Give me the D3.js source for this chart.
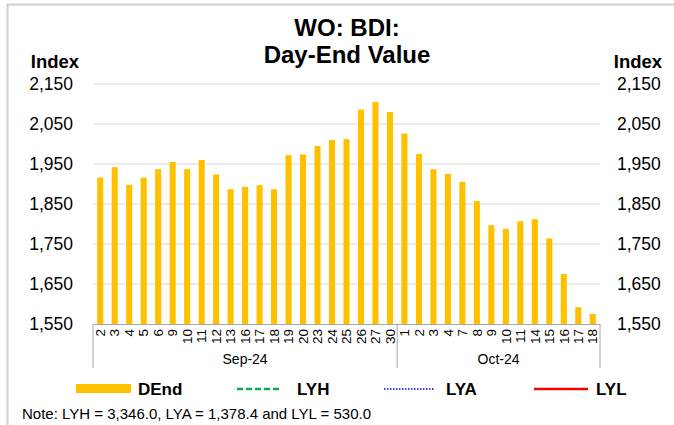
<!DOCTYPE html>
<html>
<head>
<meta charset="utf-8">
<script src="https://cdn.jsdelivr.net/npm/d3@7"></script>
<style>
  body { margin: 0; background: #fff; }
  svg { display: block; font-family: "Liberation Sans", Arial, sans-serif; }
</style>
</head>
<body>
<div id="chart"></div>
<script>
// business days shown on the axis
const sepDays = [2, 3, 4, 5, 6, 9, 10, 11, 12, 13, 16, 17, 18, 19, 20, 23, 24, 25, 26, 27, 30];
const octDays = [1, 2, 3, 4, 7, 8, 9, 10, 11, 14, 15, 16, 17, 18];
// day-end index values
const sepValues = [1916, 1942, 1898, 1916, 1937, 1955, 1937, 1960, 1924, 1887, 1893,
                   1897, 1887, 1972, 1974, 1995, 2010, 2012, 2086, 2105, 2080];
const octValues = [2026, 1975, 1937, 1925, 1905, 1857, 1797, 1788, 1807, 1812, 1764,
                   1675, 1592, 1575];
const yTicks = [1550, 1650, 1750, 1850, 1950, 2050, 2150];
const legendItems = ["DEnd", "LYH", "LYA", "LYL"];

const data = sepDays.map((d, i) => ({ key: "Sep-" + d, day: d, value: sepValues[i] }))
  .concat(octDays.map((d, i) => ({ key: "Oct-" + d, day: d, value: octValues[i] })));

const width = 674, height = 425;
const plotLeft = 93, plotRight = 600, plotTop = 84, plotBottom = 324;

const svg = d3.select("#chart").append("svg")
  .attr("width", width)
  .attr("height", height);

// outer frame
svg.append("rect")
  .attr("x", 7.5).attr("y", 4.5)
  .attr("width", 700).attr("height", 440)
  .attr("fill", "none")
  .attr("stroke", "#d0d0d0")
  .attr("stroke-width", 2);

const x = d3.scaleBand()
  .domain(data.map(d => d.key))
  .range([plotLeft, plotRight])
  .paddingInner(0.58)
  .paddingOuter(0.29);

const y = d3.scaleLinear()
  .domain([1550, 2150])
  .range([plotBottom, plotTop]);

// gridlines
svg.append("g")
  .selectAll("line")
  .data(yTicks.slice(1))
  .enter()
  .append("line")
  .attr("x1", plotLeft).attr("x2", plotRight)
  .attr("y1", d => y(d)).attr("y2", d => y(d))
  .attr("stroke", "#d9d9d9")
  .attr("stroke-width", 1);

// bars
svg.append("g")
  .selectAll("rect")
  .data(data)
  .enter()
  .append("rect")
  .attr("x", d => x(d.key))
  .attr("width", x.bandwidth())
  .attr("y", d => y(d.value))
  .attr("height", d => y(1550) - y(d.value))
  .attr("fill", "#FFC000");

// y axes
const fmt = d3.format(",");
const yl = svg.append("g")
  .attr("transform", `translate(${plotLeft},0)`)
  .call(d3.axisLeft(y).tickValues(yTicks).tickFormat(fmt).tickSize(0).tickPadding(20));
yl.select(".domain").remove();
yl.selectAll("text").attr("font-size", 17.5).attr("fill", "#000").attr("font-family", null);

const yr = svg.append("g")
  .attr("transform", `translate(${plotRight},0)`)
  .call(d3.axisRight(y).tickValues(yTicks).tickFormat(fmt).tickSize(0).tickPadding(17));
yr.select(".domain").remove();
yr.selectAll("text").attr("font-size", 17.5).attr("fill", "#000").attr("font-family", null);

svg.append("text").attr("x", 55).attr("y", 68)
  .attr("text-anchor", "middle").attr("font-size", 18.5).attr("font-weight", "bold")
  .text("Index");
svg.append("text").attr("x", 638).attr("y", 68)
  .attr("text-anchor", "middle").attr("font-size", 18.5).attr("font-weight", "bold")
  .text("Index");

// title
svg.append("text").attr("x", 347).attr("y", 36)
  .attr("text-anchor", "middle").attr("font-size", 24).attr("font-weight", "bold")
  .text("WO: BDI:");
svg.append("text").attr("x", 347).attr("y", 63)
  .attr("text-anchor", "middle").attr("font-size", 24).attr("font-weight", "bold")
  .text("Day-End Value");

// category axis
const xa = svg.append("g")
  .attr("transform", `translate(0,${plotBottom})`)
  .call(d3.axisBottom(x).tickSize(0).tickFormat(k => k.split("-")[1]));
xa.select(".domain").attr("stroke", "#a6a6a6");
xa.selectAll("text")
  .attr("font-size", 13.5)
  .attr("fill", "#000")
  .attr("font-family", null)
  .attr("transform", "rotate(-90)")
  .attr("text-anchor", "end")
  .attr("x", -5)
  .attr("y", 0)
  .attr("dy", "0.35em");

// month group separators
const splitX = (x("Sep-30") + x.bandwidth() + x("Oct-1")) / 2;
[plotLeft, splitX, plotRight].forEach(px => {
  svg.append("line")
    .attr("x1", px).attr("x2", px)
    .attr("y1", plotBottom).attr("y2", 368)
    .attr("stroke", "#a6a6a6");
});
svg.append("text").attr("x", (plotLeft + splitX) / 2).attr("y", 364)
  .attr("text-anchor", "middle").attr("font-size", 14).text("Sep-24");
svg.append("text").attr("x", (splitX + plotRight) / 2).attr("y", 364)
  .attr("text-anchor", "middle").attr("font-size", 14).text("Oct-24");

// legend
const lg = svg.append("g");
const lgX = [76, 237, 384, 534];
const lgTextX = [138, 297, 446, 596];
lg.append("rect").attr("x", lgX[0]).attr("y", 384).attr("width", 55).attr("height", 9).attr("fill", "#FFC000");
lg.append("line").attr("x1", lgX[1]).attr("x2", lgX[1] + 45).attr("y1", 389).attr("y2", 389)
  .attr("stroke", "#00B050").attr("stroke-width", 2.5).attr("stroke-dasharray", "6,3");
lg.append("line").attr("x1", lgX[2]).attr("x2", lgX[2] + 51).attr("y1", 389).attr("y2", 389)
  .attr("stroke", "#0000FF").attr("stroke-width", 1.5).attr("stroke-dasharray", "1.5,1.5");
lg.append("line").attr("x1", lgX[3]).attr("x2", lgX[3] + 54).attr("y1", 389).attr("y2", 389)
  .attr("stroke", "#FF0000").attr("stroke-width", 2.5);
lg.selectAll("text.lab")
  .data(legendItems)
  .enter()
  .append("text")
  .attr("class", "lab")
  .attr("x", (d, i) => lgTextX[i])
  .attr("y", 395)
  .attr("font-size", 17)
  .attr("font-weight", "bold")
  .text(d => d);

svg.append("text").attr("x", 22).attr("y", 419)
  .attr("font-size", 15)
  .text("Note: LYH = 3,346.0, LYA = 1,378.4 and LYL = 530.0");
</script>
</body>
</html>
